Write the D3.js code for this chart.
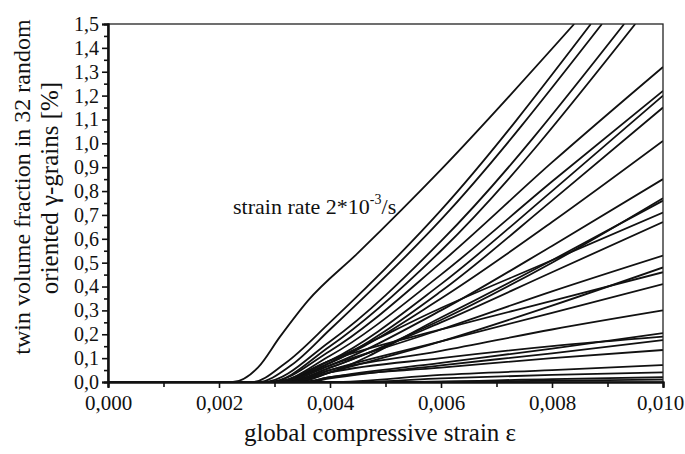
<!DOCTYPE html>
<html>
<head>
<meta charset="utf-8">
<script src="https://cdn.jsdelivr.net/npm/d3@7"></script>
<style>
  body { margin: 0; background: #fff; }
  svg { display: block; }
  text { font-family: "Liberation Serif", "DejaVu Serif", serif; fill: #111; }
</style>
</head>
<body>
<div id="chart"></div>
<script>
// tick values of the two axes
var xMajorTicks = [0, 0.002, 0.004, 0.006, 0.008, 0.010];
var xMinorTicks = [0.001, 0.003, 0.005, 0.007, 0.009];
var yMajorTicks = [0, 0.1, 0.2, 0.3, 0.4, 0.5, 0.6, 0.7, 0.8, 0.9, 1.0, 1.1, 1.2, 1.3, 1.4, 1.5];
var yMinorTicks = [0.05, 0.15, 0.25, 0.35, 0.45, 0.55, 0.65, 0.75, 0.85, 0.95, 1.05, 1.15, 1.25, 1.35, 1.45];

// twin volume fraction [%] vs strain, one curve per grain
var grainCurves = [
  [[0.00225,0],[0.0027,0.06],[0.0031,0.19],[0.0036,0.34],[0.0045,0.54],[0.006,0.89],[0.0084,1.5]],
  [[0.0026,0],[0.0032,0.08],[0.004,0.25],[0.006,0.72],[0.0087,1.5]],
  [[0.0027,0],[0.0033,0.07],[0.004,0.22],[0.006,0.68],[0.0089,1.5]],
  [[0.0028,0],[0.004,0.17],[0.006,0.59],[0.0093,1.5]],
  [[0.0029,0],[0.004,0.15],[0.006,0.55],[0.0095,1.5]],
  [[0.0029,0],[0.004,0.13],[0.006,0.50],[0.008,0.92],[0.010,1.32]],
  [[0.003,0],[0.004,0.11],[0.006,0.45],[0.008,0.84],[0.010,1.22]],
  [[0.003,0],[0.004,0.09],[0.006,0.41],[0.008,0.80],[0.010,1.20]],
  [[0.0031,0],[0.004,0.08],[0.006,0.38],[0.008,0.76],[0.010,1.15]],
  [[0.003,0],[0.004,0.08],[0.006,0.35],[0.008,0.67],[0.010,1.01]],
  [[0.0031,0],[0.004,0.07],[0.006,0.30],[0.008,0.57],[0.010,0.85]],
  [[0.0032,0],[0.004,0.06],[0.006,0.26],[0.008,0.50],[0.010,0.77]],
  [[0.0034,0],[0.004,0.04],[0.006,0.27],[0.008,0.51],[0.010,0.76]],
  [[0.003,0],[0.004,0.09],[0.006,0.31],[0.008,0.51],[0.010,0.71]],
  [[0.0032,0],[0.004,0.06],[0.006,0.25],[0.008,0.46],[0.010,0.67]],
  [[0.0031,0],[0.004,0.07],[0.006,0.22],[0.008,0.38],[0.010,0.53]],
  [[0.0034,0],[0.004,0.04],[0.006,0.17],[0.008,0.32],[0.010,0.48]],
  [[0.003,0],[0.004,0.09],[0.006,0.22],[0.008,0.34],[0.010,0.46]],
  [[0.0033,0],[0.004,0.05],[0.006,0.17],[0.008,0.29],[0.010,0.41]],
  [[0.0032,0],[0.004,0.05],[0.006,0.13],[0.008,0.22],[0.010,0.30]],
  [[0.0035,0],[0.004,0.02],[0.006,0.08],[0.008,0.14],[0.010,0.205]],
  [[0.0033,0],[0.004,0.04],[0.006,0.10],[0.008,0.15],[0.010,0.19]],
  [[0.0036,0],[0.004,0.015],[0.006,0.07],[0.008,0.12],[0.010,0.176]],
  [[0.0035,0],[0.004,0.02],[0.006,0.06],[0.008,0.10],[0.010,0.134]],
  [[0.004,0],[0.006,0.03],[0.008,0.05],[0.010,0.071]],
  [[0.0045,0],[0.006,0.015],[0.008,0.03],[0.010,0.04]],
  [[0.005,0],[0.008,0.012],[0.010,0.02]],
  [[0.0055,0],[0.008,0.006],[0.010,0.01]]
];

var W = 685, H = 454;
var plotL = 108, plotR = 663, plotT = 24, plotB = 382;

var svg = d3.select('#chart').append('svg')
  .attr('width', W)
  .attr('height', H);

var x = d3.scaleLinear().domain([0, 0.010]).range([plotL, plotR]);
var y = d3.scaleLinear().domain([0, 1.5]).range([plotB, plotT]);

var comma = function(f){ return function(d){ return d3.format(f)(d).replace('.', ','); }; };

svg.append('clipPath').attr('id', 'plotClip')
  .append('rect')
  .attr('x', plotL).attr('y', plotT)
  .attr('width', plotR - plotL).attr('height', plotB - plotT);

// curves, flat on the axis until onset
var line = d3.line()
  .x(function(d){ return x(d[0]); })
  .y(function(d){ return y(d[1]); })
  .curve(d3.curveMonotoneX);

svg.append('g').attr('clip-path', 'url(#plotClip)')
  .selectAll('path')
  .data(grainCurves)
  .enter().append('path')
  .attr('d', function(c){ return line([[0, 0]].concat(c)); })
  .style('fill', 'none')
  .style('stroke', '#111')
  .style('stroke-width', 1.8);

// frame
svg.append('rect')
  .attr('x', plotL).attr('y', plotT)
  .attr('width', plotR - plotL).attr('height', plotB - plotT)
  .style('fill', 'none')
  .style('stroke', '#222')
  .style('stroke-width', 1.3);

// axes
svg.append('g').attr('class', 'xax').attr('transform', 'translate(0,' + plotB + ')')
  .call(d3.axisBottom(x).tickValues(xMajorTicks).tickSize(6).tickPadding(7).tickFormat(comma('.3f')));
svg.append('g').attr('transform', 'translate(0,' + plotB + ')')
  .call(d3.axisBottom(x).tickValues(xMinorTicks).tickSize(5).tickFormat(''));
svg.append('g').attr('class', 'yax').attr('transform', 'translate(' + plotL + ',0)')
  .call(d3.axisLeft(y).tickValues(yMajorTicks).tickSize(6).tickPadding(3).tickFormat(comma('.1f')));
svg.append('g').attr('transform', 'translate(' + plotL + ',0)')
  .call(d3.axisLeft(y).tickValues(yMinorTicks).tickSize(4).tickFormat(''));

svg.selectAll('.domain').style('stroke', '#111').style('stroke-width', 2);
svg.selectAll('.tick line').style('stroke', '#111').style('stroke-width', 1.6);
svg.selectAll('.tick text')
  .style('font-family', '"Liberation Serif", serif')
  .style('fill', '#111');
svg.selectAll('.xax .tick text').style('font-size', '21px');
svg.selectAll('.yax .tick text').style('font-size', '20px');
// last strain label sits against the page edge
svg.selectAll('.xax .tick text').filter(function(d){ return d === 0.010; }).attr('dx', -3);

// titles
svg.append('text')
  .attr('x', 380).attr('y', 441)
  .attr('text-anchor', 'middle')
  .style('font-size', '25px')
  .text('global compressive strain ε');

svg.append('text')
  .attr('transform', 'translate(30,187) rotate(-90)')
  .attr('text-anchor', 'middle')
  .style('font-size', '24px')
  .text('twin volume fraction in 32 random');
svg.append('text')
  .attr('transform', 'translate(58,188) rotate(-90)')
  .attr('text-anchor', 'middle')
  .style('font-size', '25px')
  .text('oriented γ-grains [%]');

// annotation
var note = svg.append('text')
  .attr('x', 233).attr('y', 214)
  .style('font-size', '22px');
note.append('tspan').text('strain rate 2*10');
note.append('tspan').attr('dy', -10).style('font-size', '14px').text('-3');
note.append('tspan').attr('dy', 10).text('/s');
</script>
</body>
</html>
